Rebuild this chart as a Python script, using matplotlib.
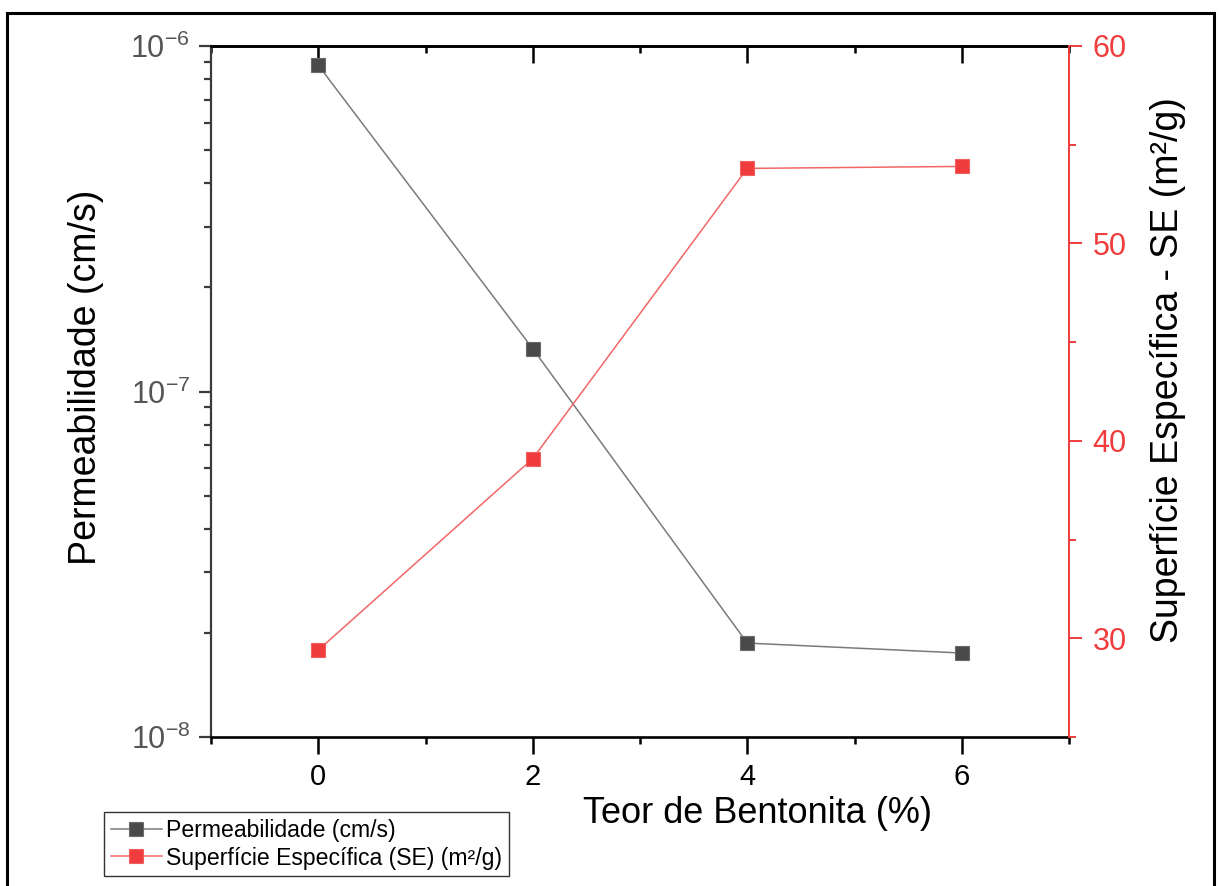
import matplotlib
matplotlib.use("Agg")
import matplotlib.pyplot as plt
from matplotlib.ticker import MultipleLocator, LogLocator, NullFormatter, FixedLocator
from matplotlib.lines import Line2D
from matplotlib.patches import Rectangle

# Bentonite content (%) and measured properties
bentonite_pct = [0, 2, 4, 6]
permeability_cm_s = [8.8e-7, 1.33e-7, 1.87e-8, 1.75e-8]
specific_surface_m2_g = [29.4, 39.1, 53.8, 53.9]

x_ticks = [0, 2, 4, 6]
se_ticks = [30, 40, 50, 60]

label_perm = "Permeabilidade (cm/s)"
label_se = "Superfície Específica (SE) (m²/g)"

plt.rcParams["font.family"] = ["Liberation Sans", "DejaVu Sans"]
plt.rcParams["mathtext.fontset"] = "custom"
plt.rcParams["mathtext.rm"] = "Liberation Sans"
plt.rcParams["mathtext.it"] = "Liberation Sans:italic"
plt.rcParams["mathtext.bf"] = "Liberation Sans:bold"

RED = "#f03c3c"
RED_LINE = "#f26666"
DARK = "#4a4a4a"
GREY_LINE = "#7a7a7a"

W, H = 1220, 886
fig = plt.figure(figsize=(W / 100, H / 100), dpi=100)
ax = fig.add_axes([211 / W, 1 - 737 / H, 858 / W, 691 / H])
ax2 = ax.twinx()

# Permeability on log scale (left axis)
ax.plot(bentonite_pct, permeability_cm_s, color=GREY_LINE, lw=1.1,
        marker="s", ms=9.5, mfc=DARK, mec="#6a6a6a", mew=0.8, zorder=3)
ax.set_yscale("log")
ax.set_ylim(1e-8, 1e-6)
ax.set_xlim(-1, 7)

ax.xaxis.set_major_locator(FixedLocator(x_ticks))
ax.xaxis.set_minor_locator(MultipleLocator(1))
ax.yaxis.set_major_locator(LogLocator(base=10))
ax.yaxis.set_minor_locator(LogLocator(base=10, subs=range(2, 10)))
ax.yaxis.set_minor_formatter(NullFormatter())

ax.tick_params(axis="x", which="major", direction="out", length=12, width=1.8,
               labelsize=21, pad=7, color="black")
ax.tick_params(axis="x", which="minor", direction="out", length=5, width=1.8)
ax.tick_params(axis="y", which="major", direction="out", length=9, width=1.6,
               labelsize=22, labelcolor="#555555", color="#3c3c3c", pad=6)
ax.tick_params(axis="y", which="minor", direction="out", length=5, width=1.6,
               color="#3c3c3c")

for side in ("bottom", "top"):
    ax.spines[side].set_linewidth(1.9)
    ax.spines[side].set_color("black")
ax.spines["left"].set_linewidth(1.6)
ax.spines["left"].set_color("#3c3c3c")
ax.spines["right"].set_visible(False)

# Mirrored top axis with inward ticks
top = ax.secondary_xaxis("top")
top.xaxis.set_major_locator(FixedLocator(x_ticks))
top.xaxis.set_minor_locator(MultipleLocator(1))
top.tick_params(which="major", direction="in", length=12, width=1.8, labeltop=False)
top.tick_params(which="minor", direction="in", length=5, width=1.8)
top.spines["top"].set_linewidth(1.9)

# Specific surface (right axis)
ax2.plot(bentonite_pct, specific_surface_m2_g, color=RED_LINE, lw=1.1,
         marker="s", ms=9.5, mfc=RED, mec="#f06060", mew=0.8, zorder=3)
ax2.set_ylim(25, 60)
ax2.yaxis.set_major_locator(FixedLocator(se_ticks))
ax2.yaxis.set_minor_locator(MultipleLocator(5))
ax2.tick_params(axis="y", which="major", direction="out", length=9, width=1.4,
                color=RED, labelcolor=RED, labelsize=22, pad=8)
ax2.tick_params(axis="y", which="minor", direction="out", length=5, width=1.4,
                color=RED)
for side in ("left", "top", "bottom"):
    ax2.spines[side].set_visible(False)
ax2.spines["right"].set_color(RED)
ax2.spines["right"].set_linewidth(1.4)

# Axis titles
ax.set_xlabel("Teor de Bentonita (%)", fontsize=26)
ax.xaxis.set_label_coords(0.6375, -0.085)
ax.set_ylabel("Permeabilidade (cm/s)", fontsize=27)
ax.yaxis.set_label_coords(-0.125, 0.52)
ax2.set_ylabel("Superfície Específica - SE (m²/g)", fontsize=27)
ax2.yaxis.set_label_coords(1.094, 0.531)

# Legend below the plot, lower left
handles = [
    Line2D([], [], color=GREY_LINE, lw=1.1, marker="s", ms=9.5, mfc=DARK,
           mec="#6a6a6a", mew=0.8),
    Line2D([], [], color=RED_LINE, lw=1.1, marker="s", ms=9.5, mfc=RED,
           mec="#f06060", mew=0.8),
]
leg = fig.legend(handles, [label_perm, label_se], loc="upper left",
                 bbox_to_anchor=(104 / W, 1 - 812 / H), borderaxespad=0,
                 fontsize=16.6, frameon=True, fancybox=False, framealpha=1,
                 edgecolor="#333333", handlelength=2.2, handletextpad=0.2,
                 borderpad=0.3, labelspacing=0.2)
leg.get_frame().set_linewidth(1.0)

# Outer frame around the figure
fig.patches.append(Rectangle((7 / W, -0.05), (1214 - 7) / W, 1.05 - 13 / H,
                             transform=fig.transFigure, fill=False,
                             edgecolor="black", lw=2.2))

fig.savefig("out.png", dpi=100)
